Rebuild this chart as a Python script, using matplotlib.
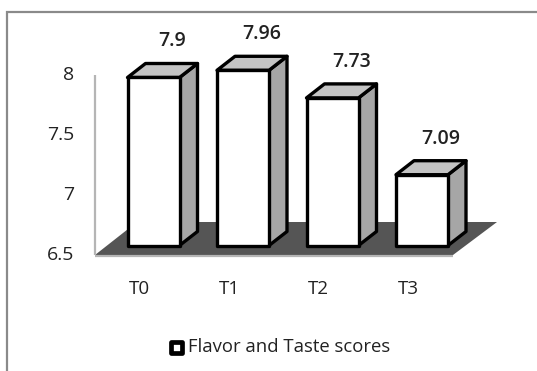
import matplotlib
matplotlib.use('Agg')
import matplotlib.pyplot as plt
from matplotlib.patches import Polygon, Rectangle

# Puntajes de sabor por tratamiento
CATEGORIES = ['T0', 'T1', 'T2', 'T3']
SCORES = [7.9, 7.96, 7.73, 7.09]
Y_TICKS = [6.5, 7, 7.5, 8]
Y_TICK_LABELS = ['6.5', '7', '7.5', '8']
SERIES_NAME = 'Flavor and Taste scores'

W, H = 537, 371
FONT = 'Open Sans'
INK = '#222222'

fig = plt.figure(figsize=(W / 100, H / 100), dpi=100, facecolor='white')
# ejes en pixeles para la decoracion de la caja 3D
deco = fig.add_axes([0, 0, 1, 1])
deco.set_xlim(0, W)
deco.set_ylim(H, 0)
deco.axis('off')

# ejes de datos: 6.5 en el pie de las barras, 120 px por unidad
BASE_Y, TOP_Y = 245.5, 65.5
ax = fig.add_axes([0, 1 - BASE_Y / H, 1, (BASE_Y - TOP_Y) / H])
ax.set_xlim(0, W)
ax.set_ylim(6.5, 8)
ax.axis('off')
ax.patch.set_alpha(0)

# marco exterior
deco.plot([6.5, 6.5, W + 5], [H + 5, 12, 12], color='#8a8a8a', lw=1.6,
          solid_joinstyle='miter')

# pared y piso
deco.add_patch(Polygon([(95, 255), (137, 222), (497, 222), (453, 255)],
                       closed=True, fc='#555555', ec='none'))
deco.plot([95, 95], [75, 255], color='#b5b5b5', lw=1.6, solid_capstyle='butt')
deco.plot([95, 453], [255.5, 255.5], color='#b5b5b5', lw=1.6, solid_capstyle='butt')

DX, DY = 18, 14
BAR_W = 52
LEFTS = [127.5, 217, 306.5, 396]
inv = ax.transData.inverted().transform
fig.canvas.draw()
dy_data = inv((0, DY))[1] - inv((0, 0))[1]
dx_data = inv((DX, 0))[0] - inv((0, 0))[0]

for left, score, cat in zip(LEFTS, SCORES, CATEGORIES):
    right = left + BAR_W
    style = dict(closed=True, ec='black', lw=2.4, joinstyle='round', clip_on=False)
    ax.add_patch(Polygon([(right, 6.5), (right + dx_data, 6.5 + dy_data),
                          (right + dx_data, score + dy_data), (right, score)],
                         fc='#a6a6a6', **style))
    ax.add_patch(Polygon([(left, score), (right, score),
                          (right + dx_data, score + dy_data),
                          (left + dx_data, score + dy_data)],
                         fc='#c4c4c4', **style))
    ax.add_patch(Rectangle((left, 6.5), BAR_W, score - 6.5, fc='white',
                           ec='black', lw=2.4, joinstyle='round', clip_on=False))
    ax.annotate(f'{score:g}', (left + 45, score), xytext=(0, 26),
                textcoords='offset points', ha='center', va='center',
                fontsize=14, fontweight='semibold', family=FONT, color=INK,
                annotation_clip=False)
    deco.text(left + 12, 289, cat, ha='center', va='center', fontsize=13.5,
              family=FONT, color=INK)

# etiquetas del eje y
for tick, lab in zip(Y_TICKS, Y_TICK_LABELS):
    y_px = 255 - (tick - 6.5) * 120
    deco.text(74, y_px, lab, ha='right', va='center', fontsize=14,
              family=FONT, color=INK)

# leyenda
deco.add_patch(Rectangle((170.5, 342), 11, 11, fc='white', ec='black', lw=3.4,
                         joinstyle='round'))
deco.text(188, 347, SERIES_NAME, ha='left', va='center', fontsize=13.3,
          family=FONT, color=INK)

fig.savefig('out.png', dpi=100, facecolor='white')
plt.close(fig)
